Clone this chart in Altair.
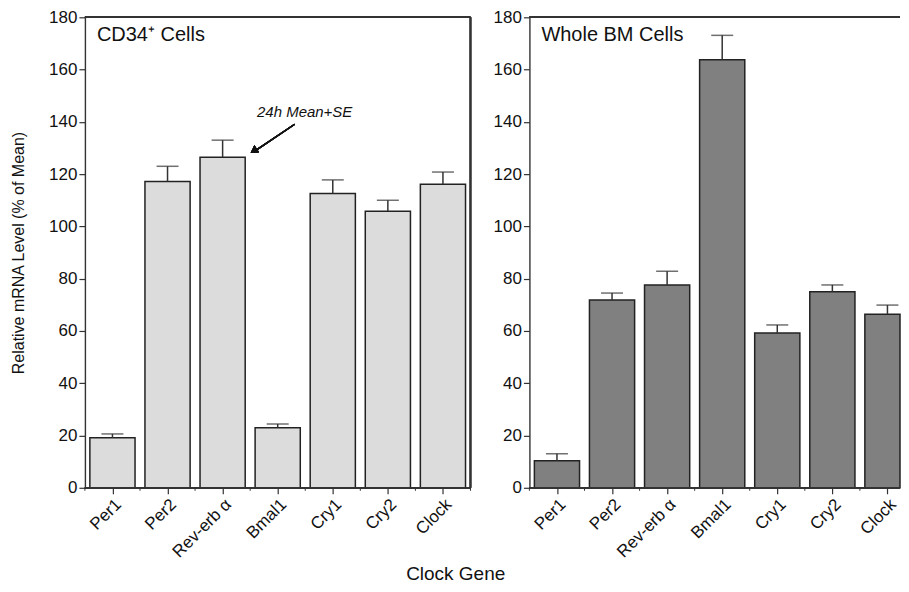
import altair as alt
import pandas as pd

genes = ["Per1", "Per2", "Rev-erb α", "Bmal1", "Cry1", "Cry2", "Clock"]
cd34_mean = [19.1, 117.2, 126.5, 23.0, 112.6, 105.8, 116.1]
cd34_err = [20.6, 123.0, 133.0, 24.4, 117.8, 110.0, 120.8]
bm_mean = [10.3, 71.8, 77.6, 163.8, 59.2, 75.0, 66.4]
bm_err = [13.0, 74.5, 82.8, 173.1, 62.3, 77.6, 69.9]
y_ticks = list(range(0, 181, 10))

FONT = "Liberation Sans"
W = 386
H = 471
N = len(genes)
HALF = 0.41  # half bar width, in category units
label_js = "[" + ",".join("'" + g + "'" for g in genes) + "][floor(datum.value)]"

def panel(means, errs, fill, label, label_size, width, show_title, annotate):
    dmax = N * width / W
    pos = [i + 0.5 for i in range(N)]
    df = pd.DataFrame({"gene": genes, "pos": pos, "mean": means, "err": errs})
    df["x0"] = df["pos"] - HALF
    df["x1"] = (df["pos"] + HALF).clip(upper=dmax)
    bnd_df = pd.DataFrame({"b": [b for b in range(N + 1) if b <= dmax]})
    xs = alt.Scale(domain=[0, dmax], nice=False, zero=False)
    ys = alt.Scale(domain=[0, 180], nice=False, zero=True)
    xaxis = alt.Axis(title=None, values=pos, labelExpr=label_js, labelAngle=315, labelFontSize=17,
                     labelFont=FONT, labelColor="#111", tickSize=6, tickColor="#333", tickWidth=1.2,
                     domain=False, labelPadding=2, labelAlign="right", labelBaseline="top",
                     labelOverlap=False, labelBound=False, labelFlush=False, grid=False)
    yaxis = alt.Axis(values=y_ticks, title=("Relative mRNA Level (% of Mean)" if show_title else None),
                     titleFont=FONT, titleFontSize=16, titleFontWeight="normal", titleColor="#111",
                     titlePadding=22,
                     labelExpr="datum.value % 20 === 0 ? datum.label : ''",
                     labelFontSize=17, labelFont=FONT, labelColor="#111", labelPadding=2,
                     tickSize={"condition": {"test": "datum.value % 20 === 0", "value": 6}, "value": 3},
                     tickColor="#333", tickWidth=1.2, domainColor="#333", domainWidth=1.4,
                     grid=False)
    base = alt.Chart(df)
    bars = base.mark_bar(fill=fill, stroke="#222", strokeWidth=1.5).encode(
        x=alt.X("x0:Q", scale=xs, axis=xaxis), x2="x1:Q",
        y=alt.Y("mean:Q", scale=ys, axis=yaxis), y2=alt.datum(0))
    err_line = base.mark_rule(color="#333", strokeWidth=1.5).encode(
        x=alt.X("pos:Q", scale=xs), y=alt.Y("mean:Q", scale=ys), y2="err:Q")
    err_cap = base.mark_tick(color="#333", thickness=1.5, size=22, orient="horizontal").encode(
        x=alt.X("pos:Q", scale=xs), y=alt.Y("err:Q", scale=ys))
    bnd = alt.Chart(bnd_df).mark_rule(color="#333", strokeWidth=1).encode(
        x=alt.X("b:Q", scale=xs), y=alt.value(H), y2=alt.value(H + 3))
    top = base.mark_rule(color="#333", strokeWidth=1.4).encode(
        x=alt.value(0), x2=alt.value(width), y=alt.value(0))
    bottom = base.mark_rule(color="#333", strokeWidth=1.4).encode(
        x=alt.value(0), x2=alt.value(width), y=alt.value(H))
    lbl = alt.Chart(pd.DataFrame({"t": [label]})).mark_text(
        align="left", baseline="middle", font=FONT, fontSize=label_size, color="#111").encode(
        text="t:N", x=alt.value(12), y=alt.value(18))
    layers = [bars, err_line, err_cap, bnd, top, bottom, lbl]
    if annotate:
        right = base.mark_rule(color="#333", strokeWidth=1.4).encode(
            x=alt.value(width), y=alt.value(0), y2=alt.value(H))
        ann = alt.Chart(pd.DataFrame({"t": ["24h Mean+SE"]})).mark_text(
            align="center", baseline="middle", font=FONT, fontSize=15, fontStyle="italic",
            color="#111").encode(text="t:N", x=alt.value(220), y=alt.value(95))
        arrow = base.mark_rule(color="#111", strokeWidth=1.3).encode(
            x=alt.value(210), x2=alt.value(170), y=alt.value(107), y2=alt.value(134))
        head = base.mark_point(shape="triangle", filled=True, color="#111", size=70,
                               angle=236, opacity=1).encode(
            x=alt.value(170), y=alt.value(133))
        layers += [right, ann, arrow, head]
    return alt.layer(*layers).properties(width=width, height=H)

left = panel(cd34_mean, cd34_err, "#dcdcdc", "CD34⁺ Cells", 20, W, True, True)
right = panel(bm_mean, bm_err, "#808080", "Whole BM Cells", 20, 371, False, False)

chart = alt.hconcat(left, right, spacing=21).properties(
    padding={"left": 2, "top": 0, "right": 0, "bottom": 0},
    title=alt.TitleParams("Clock Gene", orient="bottom", anchor="middle", font=FONT,
                          fontSize=19, fontWeight="normal", color="#111", offset=5),
).configure_view(stroke=None)

chart.save("out.html", embed_options={"renderer": "svg", "actions": False})
